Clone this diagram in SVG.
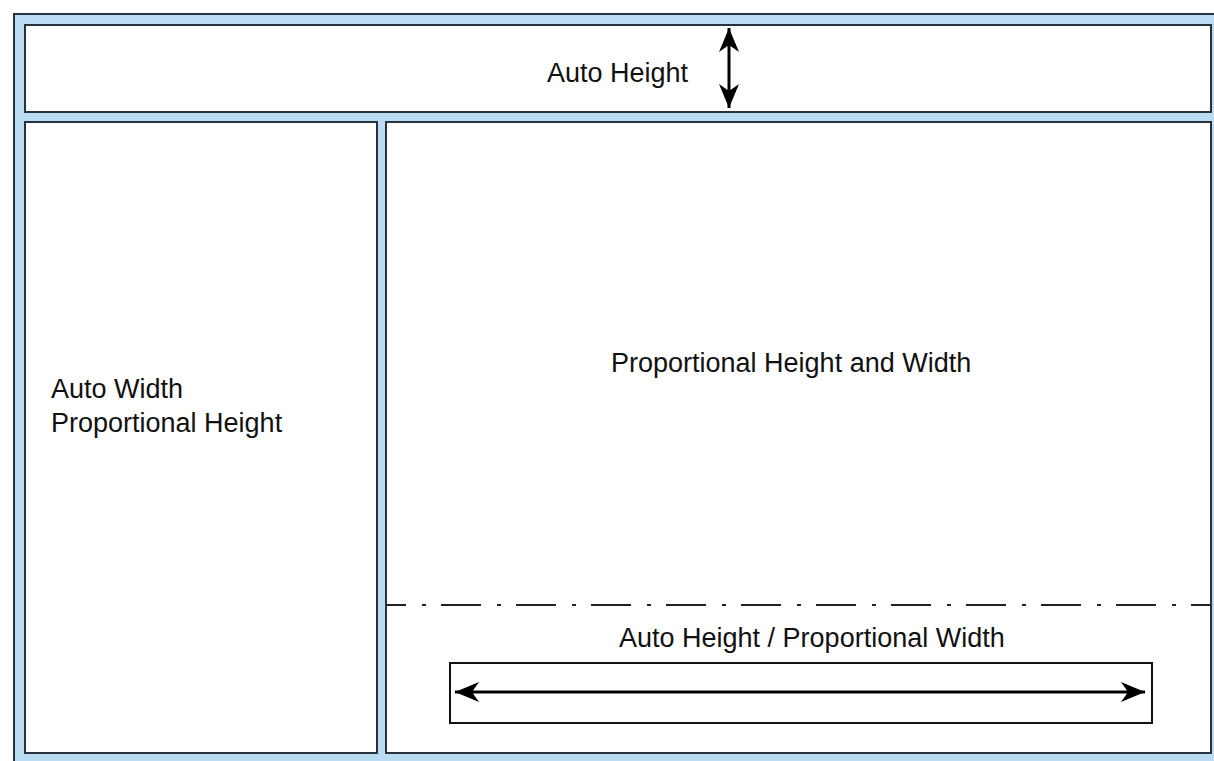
<svg xmlns="http://www.w3.org/2000/svg" width="1214" height="761" viewBox="0 0 1214 761">
<style>
.panel{fill:#ffffff;stroke:#27323c;stroke-width:2}
.lbl{font-family:"Liberation Sans",Arial,sans-serif;font-size:27px;fill:#111111}
.arr{stroke:#000000;stroke-width:3;fill:none}
</style>
<defs>
<marker id="ah" markerUnits="userSpaceOnUse" markerWidth="28" markerHeight="26" viewBox="-26 -13 28 26" refX="0" refY="0" orient="auto-start-reverse">
<path d="M0,0 L-24,-10 L-17,0 L-24,10 Z" fill="#000000"/>
</marker>
</defs>
<rect width="1214" height="761" fill="#ffffff"/>
<g id="frame">
<rect x="14" y="14" width="1212" height="760" fill="#b9dcf2" stroke="#27323c" stroke-width="2"/>
</g>
<g id="top-panel">
<rect class="panel" x="25" y="25" width="1186" height="87"/>
<text class="lbl" x="547" y="82">Auto Height</text>
</g>
<g id="left-panel">
<rect class="panel" x="25" y="122" width="352" height="631"/>
<text class="lbl" x="51" y="398">Auto Width</text>
<text class="lbl" x="51" y="432">Proportional Height</text>
</g>
<g id="right-panel">
<rect class="panel" x="386" y="122" width="825" height="631"/>
<text class="lbl" x="611" y="372">Proportional Height and Width</text>
<text class="lbl" x="619" y="647">Auto Height / Proportional Width</text>
<rect x="450" y="663" width="702" height="60" fill="#ffffff" stroke="#111111" stroke-width="2"/>
</g>
<g id="connectors">
<line x1="387" y1="605" x2="1211" y2="605" stroke="#222222" stroke-width="2" stroke-dasharray="40 16 4 15" stroke-dashoffset="21"/>
<line class="arr" x1="729" y1="28" x2="729" y2="108" marker-start="url(#ah)" marker-end="url(#ah)"/>
<line class="arr" x1="455" y1="692" x2="1145" y2="692" marker-start="url(#ah)" marker-end="url(#ah)"/>
</g>
</svg>
